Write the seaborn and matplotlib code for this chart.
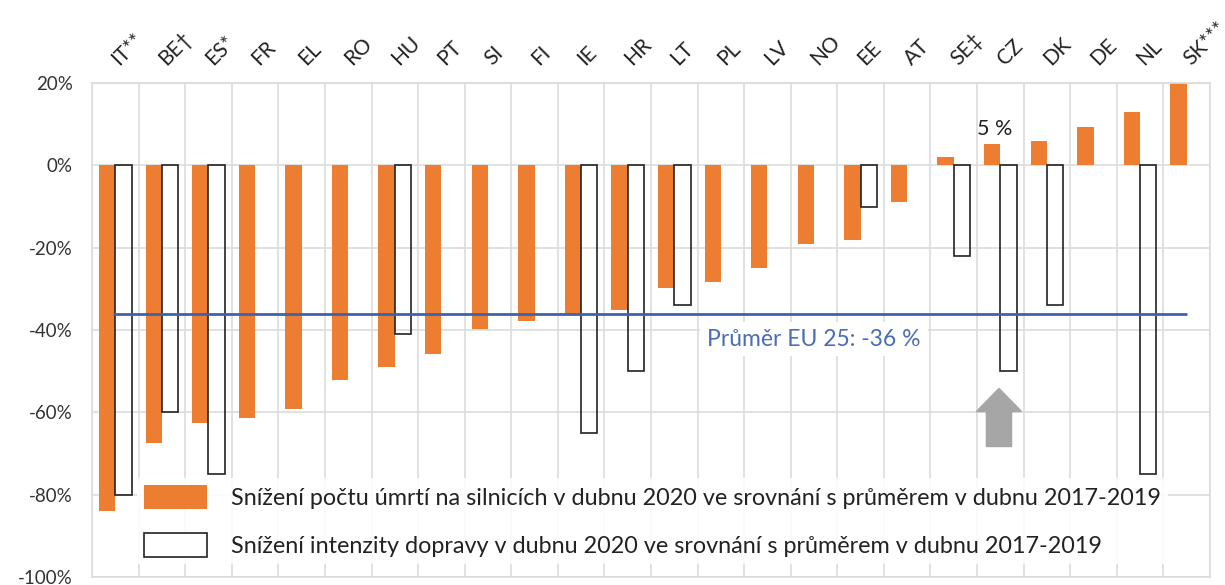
import numpy as np
import pandas as pd
import seaborn as sns
import matplotlib.pyplot as plt
from matplotlib.patches import Patch

# %%
# data (% change, April 2020 vs April 2017-2019)
countries = ["IT**", "BE†", "ES*", "FR", "EL", "RO", "HU", "PT", "SI", "FI", "IE", "HR",
             "LT", "PL", "LV", "NO", "EE", "AT", "SE‡", "CZ", "DK", "DE", "NL", "SK***"]
deaths_change = [-84, -67.4, -62.6, -61.4, -59.2, -52.1, -49, -45.8, -39.7, -37.8, -36.4, -35.1,
                 -29.8, -28.3, -24.9, -19.1, -18.1, -8.9, 2, 5.3, 6, 9.3, 13, 20]
traffic_change = [-80, -60, -75, np.nan, np.nan, np.nan, -41, np.nan, np.nan, np.nan, -65, -50,
                  -34, np.nan, np.nan, np.nan, -10, np.nan, -22, -50, -34, np.nan, -75, np.nan]
eu_avg = -36
cz_label = "5 %"
y_ticks = [20, 0, -20, -40, -60, -80, -100]

label_deaths = "Snížení počtu úmrtí na silnicích v dubnu 2020 ve srovnání s průměrem v dubnu 2017-2019"
label_traffic = "Snížení intenzity dopravy v dubnu 2020 ve srovnání s průměrem v dubnu 2017-2019"
label_avg = "Průměr EU 25: -36 %"

orange = "#ED7D31"
blue_line = "#3F62AE"
blue_text = "#4A6DB5"
grid_col = "#DCDCDC"

# %%
sns.set_theme(style="white")
plt.rcParams["font.family"] = ["Lato", "DejaVu Sans"]

df = pd.DataFrame({"country": countries, "deaths": deaths_change, "traffic": traffic_change})
long_df = df.melt(id_vars="country", var_name="series", value_name="change")

fig = plt.figure(figsize=(12.25, 5.85), dpi=100)
ax = fig.add_axes([92 / 1225, 8 / 585, 1118 / 1225, 494 / 585])

sns.barplot(data=long_df, x="country", y="change", hue="series", order=countries,
            hue_order=["deaths", "traffic"], palette=[orange, "white"], width=0.7,
            dodge=True, legend=False, ax=ax, saturation=1)

for bar in ax.containers[0]:
    bar.set_edgecolor("none")
for bar in ax.containers[1]:
    bar.set_facecolor("none")
    bar.set_edgecolor("#222222")
    bar.set_linewidth(1.2)
    bar.set_zorder(3)

# EU average line
x_idx = np.arange(len(countries))
ax.hlines(eu_avg, x_idx[0] - 0.05, x_idx[-1], color=blue_line, lw=2, zorder=4)
ax.text(15.0, eu_avg - 6.2, label_avg, color=blue_text, fontsize=16.5, ha="center", va="center",
        zorder=5, bbox=dict(facecolor="white", edgecolor="none", pad=5))

# CZ annotation
cz = countries.index("CZ")
ax.text(cz - 0.12, deaths_change[cz] + 1.2, cz_label, fontsize=15.5, ha="center", va="bottom",
        color="#222222")
ax.arrow(cz - 0.03, -68.3, 0, 14.1, width=0.54, head_width=0.97, head_length=5.6,
         length_includes_head=True, color="#A6A6A6", zorder=5)

# axes styling
ax.set_xlim(-0.5, len(countries) - 0.5)
ax.set_ylim(-100, 20)
ax.set_yticks(y_ticks)
ax.set_yticklabels([f"{v}%" for v in y_ticks], fontsize=13.5, color="#333333")
ax.xaxis.tick_top()
ax.set_xticks(x_idx)
ax.set_xticklabels(countries, rotation=45, ha="left", va="center", rotation_mode="anchor",
                   fontsize=15, color="#222222")
ax.set_xticks(np.arange(len(countries) + 1) - 0.5, minor=True)
ax.tick_params(axis="x", which="major", length=0, pad=15)
ax.tick_params(axis="x", which="minor", length=0)
ax.tick_params(axis="y", length=0, pad=14)
ax.set_xlabel("")
ax.set_ylabel("")
ax.grid(axis="y", which="major", color=grid_col, lw=1.2)
ax.grid(axis="x", which="minor", color=grid_col, lw=1.2)
ax.set_axisbelow(True)
for s in ax.spines.values():
    s.set_color(grid_col)
    s.set_linewidth(1.2)

handles = [Patch(facecolor=orange, edgecolor="none"),
           Patch(facecolor="white", edgecolor="#222222", linewidth=1.2)]
leg = ax.legend(handles, [label_deaths, label_traffic], loc="upper left",
                bbox_to_anchor=(0.040, 0.201), frameon=True, fontsize=16.8,
                handlelength=2.7, handleheight=1.25, handletextpad=1.05, labelspacing=1.0,
                borderaxespad=0, borderpad=0.3, framealpha=0.9, edgecolor="none",
                fancybox=False)
for t in leg.get_texts():
    t.set_color("#222222")
leg.set_zorder(6)

fig.savefig("out.png", dpi=100)
